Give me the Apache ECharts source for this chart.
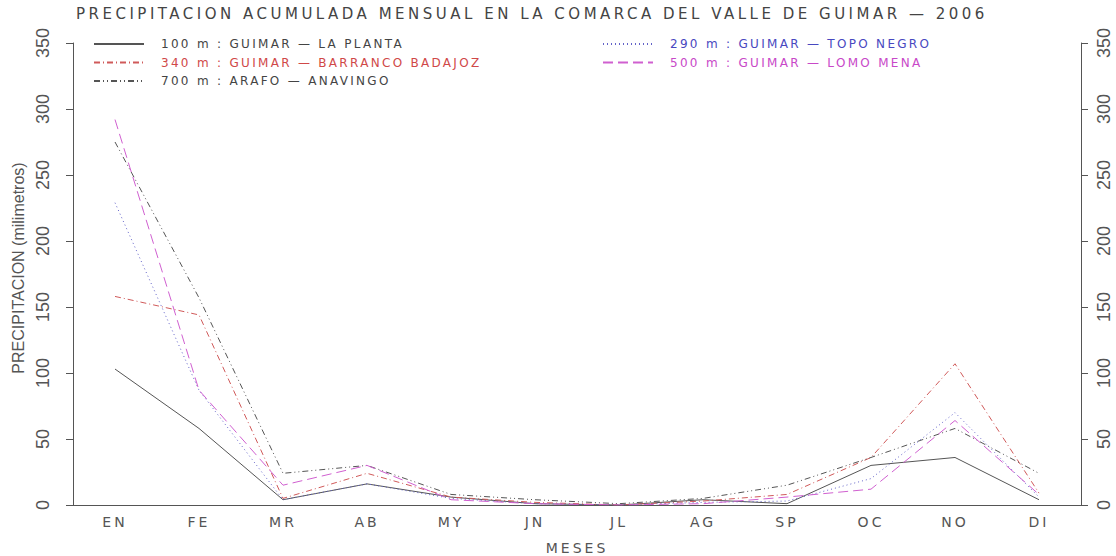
<!DOCTYPE html>
<html>
<head>
<meta charset="utf-8">
<script src="https://cdn.jsdelivr.net/npm/echarts@6/dist/echarts.min.js"></script>
<style>
  html, body { margin: 0; padding: 0; background: #fff; }
  #chart { width: 1116px; height: 556px; }
  /* the original uses a widely spaced plotter font */
  #chart text { letter-spacing: 3px; }
  #chart text[style*="15px"] { letter-spacing: 3.5px; }
  #chart text[style*="12px"] { letter-spacing: 2.3px; }
  #chart text[style*="Narrow"] { letter-spacing: 0; }
</style>
</head>
<body>
<div id="chart"></div>
<script>
const months = ['EN', 'FE', 'MR', 'AB', 'MY', 'JN', 'JL', 'AG', 'SP', 'OC', 'NO', 'DI']
const yTicks = [0, 350, 50]

const laPlanta   = [103, 58, 4, 16, 6, 1, 0, 4, 1, 30, 36, 4]
const topoNegro  = [229, 87, 4, 16, 5, 1, 0, 2, 3, 20, 70, 6]
const badajoz    = [158, 144, 5, 24, 6, 2, 0, 3, 8, 36, 107, 9]
const lomoMena   = [292, 87, 15, 30, 4, 1, 0, 1, 6, 12, 64, 8]
const anavingo   = [275, 157, 24, 30, 8, 4, 1, 5, 15, 36, 58, 24]

const FONT = 'DejaVu Sans'
const NARROW = 'Liberation Sans Narrow, Liberation Sans, sans-serif'
const GREY = '#555'

const stations = [
    { name: '100 m : GUIMAR — LA PLANTA', data: laPlanta, color: '#555', text: '#444', type: 'solid' },
    { name: '340 m : GUIMAR — BARRANCO BADAJOZ', data: badajoz, color: '#d05a5a', text: '#d04848', type: [6, 3, 1, 3] },
    { name: '700 m : ARAFO — ANAVINGO', data: anavingo, color: '#555', text: '#444', type: [6, 3, 1, 3, 1, 3] },
    { name: '290 m : GUIMAR — TOPO NEGRO', data: topoNegro, color: '#6262c8', text: '#4848c0', type: [1, 3] },
    { name: '500 m : GUIMAR — LOMO MENA', data: lomoMena, color: '#d060d0', text: '#c848c8', type: [10, 5] }
]

const legendItem = (s) => ({ name: s.name, textStyle: { color: s.text } })

const legendBase = (left, items) => ({
    left, top: 38, padding: 0, orient: 'vertical',
    itemWidth: 50, itemHeight: 12, itemGap: 6.5,
    itemStyle: { opacity: 0 },
    data: items.map(legendItem),
    textStyle: { fontFamily: FONT, fontSize: 12, padding: [0, 0, 0, 12] }
})

const yAxisBase = (pos, margin) => ({
    type: 'value',
    position: pos,
    min: yTicks[0],
    max: yTicks[1],
    interval: yTicks[2],
    splitLine: { show: false },
    axisLine: { show: true, lineStyle: { color: GREY } },
    axisTick: { show: true, length: 7, lineStyle: { color: GREY } },
    axisLabel: { rotate: 90, margin, color: GREY, fontFamily: NARROW, fontSize: 18 }
})

const chart = echarts.init(document.getElementById('chart'), null, { renderer: 'svg' })
chart.setOption({
    animation: false,
    backgroundColor: '#fff',
    title: {
        text: 'PRECIPITACION ACUMULADA MENSUAL EN LA COMARCA DEL VALLE DE GUIMAR — 2006',
        left: 76,
        top: 6,
        padding: 0,
        textStyle: { fontFamily: FONT, fontSize: 15, fontWeight: 'normal', color: '#444' }
    },
    legend: [
        legendBase(93, stations.slice(0, 3)),
        legendBase(602, stations.slice(3))
    ],
    grid: { left: 73, right: 35, top: 43, bottom: 51, containLabel: false, outerBoundsMode: 'none' },
    xAxis: {
        type: 'category',
        data: months,
        boundaryGap: true,
        name: 'MESES',
        nameLocation: 'middle',
        nameGap: 36,
        nameTextStyle: { fontFamily: FONT, fontSize: 14, color: GREY },
        axisLine: { lineStyle: { color: GREY } },
        axisTick: { length: 6, lineStyle: { color: GREY } },
        axisLabel: { margin: 10, color: GREY, fontFamily: FONT, fontSize: 14 }
    },
    yAxis: [
        Object.assign(yAxisBase('left', 21), {
            name: 'PRECIPITACION (milimetros)',
            nameLocation: 'middle',
            nameRotate: 90,
            nameGap: 46,
            nameTextStyle: { fontFamily: NARROW, fontSize: 16, color: GREY, padding: [0, 0, 0, 12] }
        }),
        yAxisBase('right', 14)
    ],
    series: stations.map(s => ({
        name: s.name,
        type: 'line',
        data: s.data,
        symbol: 'none',
        showSymbol: false,
        itemStyle: { color: s.color },
        lineStyle: { color: s.color, width: 1, type: s.type }
    }))
})
</script>
</body>
</html>
